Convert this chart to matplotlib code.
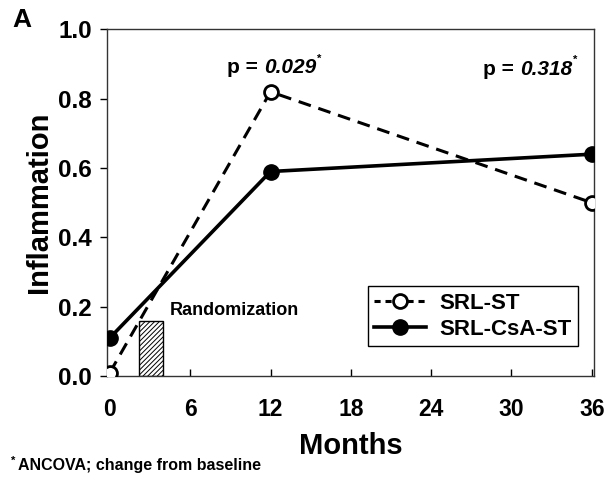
import matplotlib
matplotlib.use("Agg")
import matplotlib.pyplot as plt
from matplotlib.patches import Rectangle

plt.rcParams['font.family'] = ['Liberation Sans', 'DejaVu Sans']
plt.rcParams['font.weight'] = 'bold'
plt.rcParams['hatch.linewidth'] = 0.7

months = [0, 12, 36]
srl_st = [0.01, 0.82, 0.50]
srl_csa_st = [0.11, 0.59, 0.64]
xticks = [0, 6, 12, 18, 24, 30, 36]
yticks = [0.0, 0.2, 0.4, 0.6, 0.8, 1.0]
rand_start, rand_end, rand_height = 2.2, 4.0, 0.16
p_values = ["0.029", "0.318"]
p_positions = [(8.75, 0.89), (27.9, 0.885)]

fig = plt.figure(figsize=(6.16, 4.8), dpi=100)
ax = fig.add_axes([0.174, 0.2167, 0.79, 0.722])

ax.plot(months, srl_st, linestyle=(0, (4.2, 2.6)), color='black', linewidth=2.2,
        marker='o', markersize=10, markerfacecolor='white', markeredgecolor='black',
        markeredgewidth=2, label='SRL-ST', zorder=4)
ax.plot(months, srl_csa_st, linestyle='-', color='black', linewidth=2.6,
        marker='o', markersize=11, markerfacecolor='black', markeredgecolor='black',
        label='SRL-CsA-ST', zorder=3)

ax.add_patch(Rectangle((rand_start, 0), rand_end - rand_start, rand_height,
                       facecolor='white', edgecolor='black', hatch='///////',
                       linewidth=1.0, zorder=2))
ax.text(4.45, 0.19, 'Randomization', fontsize=13, fontweight='bold', va='center', ha='left')

ax.set_xlim(-0.2, 36.15)
ax.set_ylim(0, 1.0)
ax.set_xticks(xticks)
ax.set_xticklabels([str(t) for t in xticks])
ax.set_yticks(yticks)
ax.set_yticklabels([f"{t:.1f}" for t in yticks])
ax.tick_params(axis='x', direction='in', length=5, width=1, labelsize=16.5, pad=16)
ax.tick_params(axis='y', direction='out', length=5, width=1, labelsize=17.5, pad=6)
for lab in ax.get_xticklabels() + ax.get_yticklabels():
    lab.set_fontweight('bold')
for s in ax.spines.values():
    s.set_linewidth(1.0)
    s.set_color('#333333')

ax.set_xlabel('Months', fontsize=21, fontweight='bold', labelpad=8)
ax.set_ylabel('Inflammation', fontsize=21, fontweight='bold', labelpad=4)

for pv, (px, py) in zip(p_values, p_positions):
    t1 = ax.text(px, py, 'p = ', fontsize=15, fontweight='bold', va='center', ha='left')
    t2 = ax.annotate(pv, xy=(1, 0), xycoords=t1, va='bottom', ha='left',
                     fontsize=15, fontweight='bold', fontstyle='italic')
    ax.annotate('*', xy=(1.02, 0.72), xycoords=t2, va='bottom', ha='left',
                fontsize=8, fontweight='bold')

leg = ax.legend(loc='lower right', bbox_to_anchor=(0.967, 0.086), borderaxespad=0,
                fancybox=False, edgecolor='black', framealpha=1,
                handlelength=2.3, handletextpad=0.6, borderpad=0.3, labelspacing=0.2,
                prop={'weight': 'bold', 'size': 16})
leg.get_frame().set_linewidth(1.0)
leg.get_lines()[0].set_dashes((2.0, 1.6))

fig.text(0.020, 0.958, 'A', fontsize=19, fontweight='bold', va='center', ha='left')
fig.text(0.029, 0.030, 'ANCOVA; change from baseline', fontsize=11.5, fontweight='bold',
         va='center', ha='left')
fig.text(0.018, 0.040, '*', fontsize=8, fontweight='bold', va='center', ha='left')

fig.savefig('out.png', dpi=100)
